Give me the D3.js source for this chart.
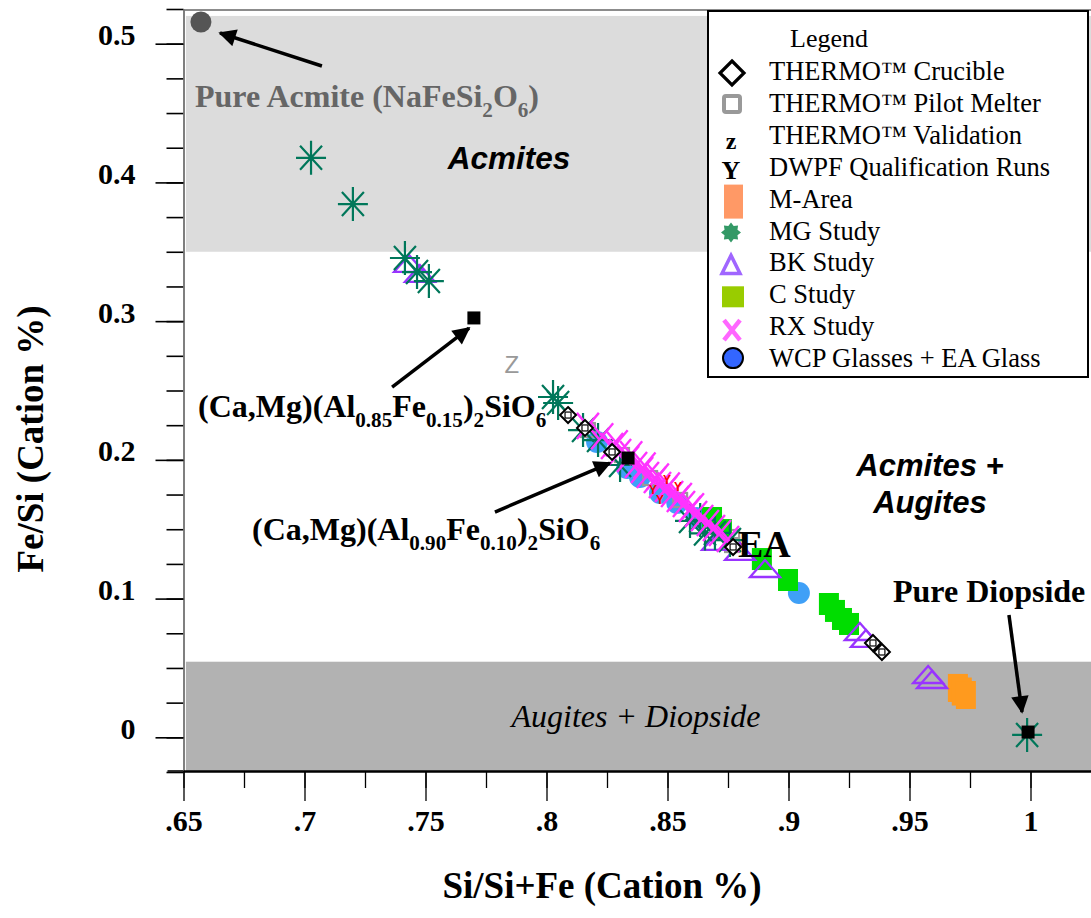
<!DOCTYPE html>
<html><head><meta charset="utf-8">
<script src="https://cdn.jsdelivr.net/npm/d3@7"></script>
<style>
html,body{margin:0;padding:0;background:#fff;}
svg{display:block;}
</style></head>
<body>
<svg id="chart" width="1091" height="918"></svg>
<script>
// ---------------- DATA ----------------
const xTickValues = [0.65,0.7,0.75,0.8,0.85,0.9,0.95,1.0];
const xTickLabels = [".65",".7",".75",".8",".85",".9",".95","1"];
const yTickValues = [0,0.1,0.2,0.3,0.4,0.5];
const yTickLabels = ["0","0.1","0.2","0.3","0.4","0.5"];
const acmiteBand = [0.35, 0.52];
const augiteBand = [-0.025, 0.0545];

const thermoCrucible = [[.8089,.2323],[.8159,.2230],[.8271,.2057],[.8771,.1372],[.9349,.0680],[.9386,.0615]];
const thermoPilot = [[.8171,.2215],[.8312,.2035],[.8428,.1869],[.8552,.1711],[.8676,.1516],[.8767,.1386],[.8767,.1444]];
const thermoValidation = [[.7857,.2684]];
const dwpfRuns = [[.8440,.1783],[.8498,.1855],[.8543,.1805],[.8469,.1711]];
const mArea = [[.9700,.0356],[.9716,.0330],[.9733,.0305]];
const mgStudy = [[.7027,.4177],[.7200,.3844],[.7415,.3455],[.7465,.3354],[.7514,.3289],[.8027,.2453],[.8048,.2410],
  [.8151,.2215],[.8213,.2143],[.8304,.1963],[.8593,.1560],[.8635,.1567],[.8655,.1470],[.8696,.1473],[.8758,.1422],[.9986,.0017]];
const bkStudy = [[.7432,.3405],[.7477,.3333],[.8705,.1401],[.8800,.1329],[.8903,.1206],[.9295,.0752],[.9320,.0702],[.9577,.0442],[.9593,.0406]];
const cStudy = [[.8684,.1581],[.8725,.1494],[.8890,.1285],[.8998,.1134],[.9167,.0961],[.9192,.0911],[.9221,.0853],[.9250,.0817]];
const rxStudy = [[.8171,.2245],[.8230,.2170],[.8271,.2100],[.8290,.2120],[.8304,.2057],[.8337,.2006],[.8350,.2040],[.8370,.1963],
  [.8395,.1927],[.8405,.1960],[.8419,.1891],[.8448,.1855],[.8460,.1880],[.8469,.1819],[.8494,.1790],[.8505,.1815],[.8519,.1754],
  [.8543,.1718],[.8555,.1740],[.8568,.1682],[.8593,.1646],[.8605,.1665],[.8618,.1610],[.8643,.1581],[.8667,.1545],[.8692,.1509],
  [.8717,.1473],[.8750,.1430]];
const wcpGlasses = [[.8209,.2129],[.8333,.1941],[.8386,.1877],[.8469,.1761],[.8540,.1690],[.8622,.1581],[.9043,.1040]];
const referencePts = [[.7700,.3023],[.8337,.2013],[.9990,.0038]];
const pureAcmite = [[.6572,.5156]];
// arrows: [x1,y1,x2,y2] in data units
const arrows = [[.7072,.4839,.6651,.5077],[.7362,.2525,.7680,.2950],[.7787,.1624,.8262,.1977],[.9911,.0882,.9965,.0183]];

const legendLabels = ["THERMO\u2122 Crucible","THERMO\u2122 Pilot Melter","THERMO\u2122 Validation","DWPF Qualification Runs",
  "M-Area","MG Study","BK Study","C Study","RX Study","WCP Glasses + EA Glass"];

// ---------------- SCALES ----------------
const svg = d3.select("#chart");
const x = d3.scaleLinear().domain([0.65, 1.025]).range([183.5, 1091]);
const y = d3.scaleLinear().domain([-0.025, 0.525]).range([772, 9]);
const serif = "'Liberation Serif','Times New Roman',serif";
const sans = "'Liberation Sans',Arial,sans-serif";

// bands
svg.append("rect").attr("x", x(0.651)).attr("width", x(1.025)-x(0.651))
  .attr("y", y(acmiteBand[1])).attr("height", y(acmiteBand[0])-y(acmiteBand[1])).attr("fill","#dcdcdc");
svg.append("rect").attr("x", x(0.651)).attr("width", x(1.025)-x(0.651))
  .attr("y", y(augiteBand[1])).attr("height", y(augiteBand[0])-y(augiteBand[1])).attr("fill","#b2b2b2");

// top frame line
svg.append("line").attr("x1",x(0.65)).attr("x2",x(1.025)).attr("y1",y(0.525)+1).attr("y2",y(0.525)+1)
  .attr("stroke","#666").attr("stroke-width",1.5);

// ---------------- AXES ----------------
const yMinor = d3.range(-0.025, 0.526, 0.025);
const gyMinor = svg.append("g").attr("transform",`translate(${x(0.65)},0)`)
  .call(d3.axisLeft(y).tickValues(yMinor).tickSize(17).tickSizeOuter(0).tickFormat(""));
const gy = svg.append("g").attr("transform",`translate(${x(0.65)},0)`)
  .call(d3.axisLeft(y).tickValues(yTickValues).tickSize(28).tickSizeOuter(0).tickPadding(20)
    .tickFormat((d,i)=>yTickLabels[i]));
gy.selectAll("text").attr("dy","0.03em").style("font-family",serif).style("font-weight","bold").style("font-size","30px").attr("fill","#000");
[gy,gyMinor].forEach(g=>{g.selectAll(".tick line").attr("stroke","#000").attr("stroke-width",1.6);
  g.select(".domain").attr("stroke","#777").attr("stroke-width",1.5);});

const xMinor = d3.range(0.65, 1.001, 0.025);
const gxMinor = svg.append("g").attr("transform",`translate(0,${y(-0.025)-1})`)
  .call(d3.axisBottom(x).tickValues(xMinor).tickSize(17).tickSizeOuter(0).tickFormat(""));
const gx = svg.append("g").attr("transform",`translate(0,${y(-0.025)-1})`)
  .call(d3.axisBottom(x).tickValues(xTickValues).tickSize(30).tickSizeOuter(0).tickFormat((d,i)=>xTickLabels[i]));
gx.selectAll("text").attr("y",60).attr("dy","0").style("font-family",serif).style("font-weight","bold").style("font-size","30px").attr("fill","#000");
[gx,gxMinor].forEach(g=>{g.selectAll(".tick line").attr("stroke","#000").attr("stroke-width",1.3);
  g.select(".domain").attr("stroke","#000").attr("stroke-width",2);});
svg.append("line").attr("x1",x(0.65)-16).attr("x2",x(0.65)).attr("y1",y(-0.025)-1).attr("y2",y(-0.025)-1)
  .attr("stroke","#000").attr("stroke-width",1.6);

// axis titles
svg.append("text").attr("x",602).attr("y",898).attr("text-anchor","middle")
  .style("font-family",serif).style("font-weight","bold").style("font-size","37px").text("Si/Si+Fe (Cation %)");
svg.append("text").attr("transform","translate(43,439) rotate(-90)").attr("text-anchor","middle")
  .style("font-family",serif).style("font-weight","bold").style("font-size","37px").text("Fe/Si (Cation %)");

// band labels
svg.append("text").attr("x",509).attr("y",169).attr("text-anchor","middle")
  .style("font-family",sans).style("font-weight","bold").style("font-style","italic").style("font-size","31.5px").text("Acmites");
svg.append("text").attr("x",930).attr("y",476).attr("text-anchor","middle")
  .style("font-family",sans).style("font-weight","bold").style("font-style","italic").style("font-size","31px").text("Acmites +");
svg.append("text").attr("x",930).attr("y",513).attr("text-anchor","middle")
  .style("font-family",sans).style("font-weight","bold").style("font-style","italic").style("font-size","31px").text("Augites");
svg.append("text").attr("x",636).attr("y",727).attr("text-anchor","middle")
  .style("font-family",serif).style("font-style","italic").style("font-size","32px").text("Augites + Diopside");

// ---------------- MARKS ----------------
const tr = d => `translate(${x(d[0])},${y(d[1])})`;
const layer = svg.append("g");

layer.selectAll(".wcp").data(wcpGlasses).join("circle").attr("cx",d=>x(d[0])).attr("cy",d=>y(d[1]))
  .attr("r",11).attr("fill","#3fa0f7");
layer.selectAll(".pilot").data(thermoPilot).join("rect").attr("transform",tr)
  .attr("x",-7).attr("y",-7).attr("width",14).attr("height",14).attr("fill","none").attr("stroke","#999").attr("stroke-width",2.2);
layer.selectAll(".cst").data(cStudy).join("rect").attr("transform",tr)
  .attr("x",-10).attr("y",-11).attr("width",20).attr("height",22).attr("fill","#00dd00");
layer.selectAll(".marea").data(mArea).join("rect").attr("transform",tr)
  .attr("x",-10).attr("y",-14).attr("width",20).attr("height",28).attr("fill","#ff9a1e");
layer.selectAll(".bk").data(bkStudy).join("path").attr("transform",tr)
  .attr("d","M0,-10L15,7L-15,7Z").attr("fill","none").attr("stroke","#9933ff").attr("stroke-width",2.3);
layer.selectAll(".mg").data(mgStudy).join("path").attr("transform",tr)
  .attr("d","M-15,0L15,0M0,-17L0,17M-11,-12L11,12M-11,12L11,-12").attr("fill","none").attr("stroke","#00775a").attr("stroke-width",2.2);
layer.selectAll(".rx").data(rxStudy).join("path").attr("transform",tr)
  .attr("d","M-11,-13L11,13M-11,13L11,-13").attr("fill","none").attr("stroke","#ff33ff").attr("stroke-width",2.4);
layer.selectAll(".cru").data(thermoCrucible).join("path").attr("transform",tr)
  .attr("d","M0,-8L8,0L0,8L-8,0Z").attr("fill","#fff").attr("stroke","#000").attr("stroke-width",2);
layer.selectAll(".cru2").data(thermoCrucible).join("rect").attr("transform",tr)
  .attr("x",-3).attr("y",-3).attr("width",6).attr("height",6).attr("fill","none").attr("stroke","#000").attr("stroke-width",1.2);
layer.selectAll(".dwpf").data(dwpfRuns).join("text").attr("transform",tr).attr("text-anchor","middle").attr("dy","0.35em")
  .style("font-family",sans).style("font-weight","bold").style("font-size","12px").attr("fill","#ff0000").text("Y");
layer.selectAll(".val").data(thermoValidation).join("text").attr("transform",tr).attr("text-anchor","middle").attr("dy","0.35em")
  .style("font-family",sans).style("font-size","24px").attr("fill","#999").text("Z");
layer.selectAll(".ref").data(referencePts).join("rect").attr("transform",tr)
  .attr("x",-6.5).attr("y",-6.5).attr("width",13).attr("height",13).attr("fill","#000");
layer.selectAll(".acm").data(pureAcmite).join("circle").attr("cx",d=>x(d[0])).attr("cy",d=>y(d[1]))
  .attr("r",10.5).attr("fill","#555");

// ---------------- ANNOTATIONS ----------------
const defs = svg.append("defs");
defs.append("marker").attr("id","ah").attr("viewBox","0 0 10 10").attr("refX",9).attr("refY",5)
  .attr("markerWidth",5.5).attr("markerHeight",5).attr("markerUnits","strokeWidth").attr("orient","auto")
  .append("path").attr("d","M0,0L10,5L0,10Z").attr("fill","#000");
svg.selectAll(".arrow").data(arrows).join("line")
  .attr("x1",d=>x(d[0])).attr("y1",d=>y(d[1])).attr("x2",d=>x(d[2])).attr("y2",d=>y(d[3]))
  .attr("stroke","#000").attr("stroke-width",3.5).attr("marker-end","url(#ah)");

function formula(xp, yp, parts, size, color){
  const t = svg.append("text").attr("x",xp).attr("y",yp)
    .style("font-family",serif).style("font-weight","bold").style("font-size",size+"px").attr("fill",color||"#000");
  let sub=false;
  parts.forEach(p=>{
    const s = t.append("tspan").text(p[0]);
    if(p[1] && !sub){ s.attr("dy", size*0.3).style("font-size",(size*0.66)+"px"); sub=true; }
    else if(p[1] && sub){ s.style("font-size",(size*0.66)+"px"); }
    else if(!p[1] && sub){ s.attr("dy", -size*0.3); sub=false; }
  });
  return t;
}
formula(195,107,[["Pure Acmite (NaFeSi"],["2",1],["O"],["6",1],[")"]],32,"#666");
formula(198,417,[["(Ca,Mg)(Al"],["0.85",1],["Fe"],["0.15",1],[")"],["2",1],["SiO"],["6",1]],32);
formula(252,540,[["(Ca,Mg)(Al"],["0.90",1],["Fe"],["0.10",1],[")"],["2",1],["SiO"],["6",1]],32);
svg.append("text").attr("x",738).attr("y",557).style("font-family",serif).style("font-weight","bold").style("font-size","38px").text("EA");
svg.append("text").attr("x",893).attr("y",602).style("font-family",serif).style("font-weight","bold").style("font-size","32px").text("Pure Diopside");

// ---------------- LEGEND ----------------
const lg = svg.append("g");
lg.append("rect").attr("x",708).attr("y",11).attr("width",380).attr("height",366)
  .attr("fill","#fff").attr("stroke","#000").attr("stroke-width",2);
lg.append("text").attr("x",829).attr("y",47).attr("text-anchor","middle")
  .style("font-family",serif).style("font-size","26px").text("Legend");
const rowY = i => 80 + i*31.9;
lg.selectAll(".lt").data(legendLabels).join("text").attr("x",769).attr("y",(d,i)=>rowY(i))
  .style("font-family",serif).style("font-size","26.5px").text(d=>d);
const sx = 732, sy = i => rowY(i) - 8;
lg.append("path").attr("transform",`translate(${sx},${sy(0)+1})`).attr("d","M0,-12L12,0L0,12L-12,0Z")
  .attr("fill","none").attr("stroke","#000").attr("stroke-width",3.2);
lg.append("rect").attr("x",sx-8).attr("y",sy(1)-8).attr("width",16).attr("height",16).attr("rx",2)
  .attr("fill","none").attr("stroke","#999").attr("stroke-width",4);
lg.append("text").attr("x",sx-1).attr("y",rowY(2)+5).attr("text-anchor","middle")
  .style("font-family",serif).style("font-weight","bold").style("font-size","24px").text("z");
lg.append("text").attr("x",sx-1).attr("y",rowY(3)+3).attr("text-anchor","middle")
  .style("font-family",serif).style("font-weight","bold").style("font-size","26px").text("Y");
lg.append("rect").attr("x",sx-8).attr("y",sy(4)-15).attr("width",19).attr("height",34).attr("fill","#ff9966");
const starPts = d3.range(16).map(k=>{const a=k*Math.PI/8 - Math.PI/2; const r = k%2? 7:10; return [r*Math.cos(a), r*Math.sin(a)];});
lg.append("path").attr("transform",`translate(${sx-1},${sy(5)+1})`).attr("d","M"+starPts.map(p=>p.join(",")).join("L")+"Z").attr("fill","#339966");
lg.append("path").attr("transform",`translate(${sx-1},${sy(6)+1})`).attr("d","M0,-9L9,9L-9,9Z")
  .attr("fill","none").attr("stroke","#a066ff").attr("stroke-width",3.5);
lg.append("rect").attr("x",sx-10).attr("y",sy(7)-9).attr("width",22).attr("height",21).attr("fill","#99cc00");
lg.append("path").attr("transform",`translate(${sx},${sy(8)+3})`).attr("d","M-8,-10L8,10M-8,10L8,-10")
  .attr("fill","none").attr("stroke","#ff66ff").attr("stroke-width",4.5);
lg.append("circle").attr("cx",sx+1).attr("cy",sy(9)-1).attr("r",10).attr("fill","#3366ff").attr("stroke","#000").attr("stroke-width",2);
</script>
</body></html>
